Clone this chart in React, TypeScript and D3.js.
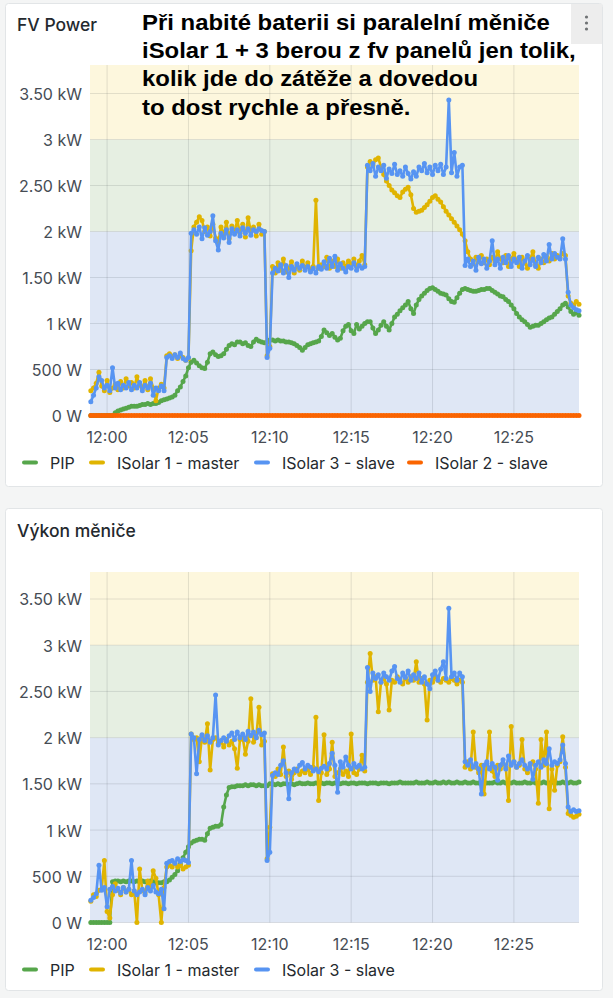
import React, { useEffect } from 'react';
import * as d3 from 'd3';

// time grid: one sample every 10 s from 11:59:00 to 12:29:00
const T = (h: number, m: number, s = 0) => new Date(2024, 0, 1, h, m, s);
const START = T(11, 59, 0);
const STEP_SEC = 10;
const X_DOMAIN = [T(11, 58, 57), T(12, 29, 0)];

const timeTickLabels = ['12:00', '12:05', '12:10', '12:15', '12:20', '12:25'];
const yTickValues = [0, 500, 1000, 1500, 2000, 2500, 3000, 3500];
const yTickLabels = ['0 W', '500 W', '1 kW', '1.50 kW', '2 kW', '2.50 kW', '3 kW', '3.50 kW'];

// threshold bands (W)
const bandEdges = [0, 2000, 3000, Infinity];
const bandColors = ['#dfe7f5', '#e6efe2', '#fdf7dd'];

// ---- FV Power (W) ----
const fvPip = [
  0, 0, 0, 0, 0, 0, 0, 0,
  0, 30, 50, 60, 70, 80, 90, 100, 100, 100,
  110, 120, 120, 130, 120, 130, 130, 140, 160, 170,
  180, 190, 200, 220, 270, 310, 370, 430, 520, 580,
  600, 570, 540, 520, 510, 580, 670, 690, 660, 640,
  650, 670, 720, 760, 780, 770, 800, 800, 780, 790,
  760, 750, 800, 830, 810, 800, 790, 800, 820, 820,
  810, 820, 810, 810, 800, 800, 790, 780, 760, 740,
  710, 740, 770, 780, 790, 800, 810, 860, 930, 900,
  870, 890, 850, 820, 840, 920, 970, 990, 920, 890,
  990, 940, 970, 1000, 1020, 1020, 950, 890, 930, 980,
  1020, 970, 930, 1000, 1070, 1100, 1140, 1170, 1200, 1240,
  1160, 1110, 1200, 1260, 1300, 1330, 1360, 1380, 1390, 1370,
  1350, 1330, 1320, 1310, 1270, 1240, 1230, 1280, 1330, 1370,
  1380, 1370, 1360, 1350, 1350, 1360, 1370, 1370, 1380, 1380,
  1360, 1340, 1320, 1300, 1290, 1260, 1240, 1200, 1160, 1110,
  1070, 1040, 1020, 990, 960, 970, 980, 980, 1000, 1020,
  1040, 1060, 1070, 1100, 1130, 1160, 1200, 1220, 1180, 1130,
  1100, 1120, 1090,
];

const fvIsolar1 = [
  270, 300, 350, 470, 320, 270, 380, 250, 300, 340,
  280, 370, 300, 400, 320, 360, 300, 420, 330, 300,
  380, 280, 400, 300, 160, 300, 340, 300, 650, 670,
  640, 660, 620, 650, 630, 600, 620, 1790, 2050, 2100,
  2160, 2120, 2000, 2050, 1950, 2080, 1930, 1880, 2050, 1960,
  2100, 1920, 2060, 2000, 2120, 1980, 2080, 1940, 2150, 2000,
  2050, 1950, 2080, 1970, 2000, 650, 750, 1620, 1550, 1660,
  1580, 1700, 1560, 1600, 1670, 1550, 1630, 1580, 1680, 1600,
  1660, 1580, 1620, 2340, 1600, 1640, 1620, 1720, 1600, 1680,
  1620, 1700, 1600, 1660, 1620, 1680, 1640, 1700, 1620, 1680,
  1740, 1640, 2700, 2760, 2720, 2780, 2800, 2700, 2620, 2550,
  2500, 2450, 2420, 2390, 2370, 2430, 2460, 2480, 2400, 2250,
  2210, 2220, 2230, 2260, 2290, 2330, 2370, 2390, 2350, 2320,
  2270, 2220, 2180, 2140, 2100, 2060, 2020, 1970, 1900, 1780,
  1700, 1650, 1720, 1670, 1740, 1660, 1700, 1640, 1720, 1670,
  1780, 1700, 1660, 1740, 1620, 1700, 1760, 1680, 1620, 1720,
  1660, 1600, 1700, 1780, 1640, 1600, 1700, 1660, 1730, 1680,
  1760, 1700, 1740, 1720, 1760, 1740, 1300, 1220, 1200, 1240,
  1210,
];

const fvIsolar3 = [
  150, 220, 300, 420, 380, 300, 330, 270, 520, 300,
  350, 280, 330, 300, 360, 280, 330, 300, 360, 270,
  330, 300, 350, 220, 300, 270, 320, 270, 630, 650,
  620, 660, 630, 680, 620, 600, 630, 1980, 2020, 1970,
  2050, 1920, 2040, 1960, 2000, 2170, 1900, 1800, 1980, 1930,
  2020, 1880, 2030, 1970, 2020, 1950, 2040, 1980, 2030, 1960,
  2020, 2000, 2030, 2010, 2000, 630, 730, 1550, 1600, 1570,
  1640, 1550, 1630, 1500, 1620, 1580, 1650, 1600, 1630, 1580,
  1620, 1560, 1600, 1550, 1620, 1590, 1670, 1600, 1710, 1620,
  1730, 1580, 1650, 1600, 1560, 1620, 1600, 1660, 1580, 1630,
  1600, 1620, 2720, 2660, 2740, 2600, 2700, 2660, 2720, 2580,
  2680, 2630, 2730, 2620, 2660, 2600, 2700, 2630, 2570, 2650,
  2600, 2700, 2660, 2740, 2640, 2700, 2620, 2720, 2660, 2730,
  2620, 2700, 3430, 2640, 2860, 2600, 2700, 2720, 1630, 1700,
  1620, 1680, 1580, 1720, 1650, 1700, 1600, 1680, 1900, 1640,
  1700, 1600, 1720, 1660, 1740, 1620, 1700, 1660, 1720, 1600,
  1680, 1740, 1640, 1700, 1620, 1720, 1660, 1750, 1680, 1860,
  1700, 1760, 1720, 1700, 1920, 1700, 1340, 1200, 1170, 1150,
  1140,
];

const fvIsolar2 = [
  0, 0, 0, 0, 0, 0, 0, 0, 0, 0, 0, 0, 0, 0, 0, 0, 0, 0, 0, 0,
  0, 0, 0, 0, 0, 0, 0, 0, 0, 0, 0, 0, 0, 0, 0, 0, 0, 0, 0, 0,
  0, 0, 0, 0, 0, 0, 0, 0, 0, 0, 0, 0, 0, 0, 0, 0, 0, 0, 0, 0,
  0, 0, 0, 0, 0, 0, 0, 0, 0, 0, 0, 0, 0, 0, 0, 0, 0, 0, 0, 0,
  0, 0, 0, 0, 0, 0, 0, 0, 0, 0, 0, 0, 0, 0, 0, 0, 0, 0, 0, 0,
  0, 0, 0, 0, 0, 0, 0, 0, 0, 0, 0, 0, 0, 0, 0, 0, 0, 0, 0, 0,
  0, 0, 0, 0, 0, 0, 0, 0, 0, 0, 0, 0, 0, 0, 0, 0, 0, 0, 0, 0,
  0, 0, 0, 0, 0, 0, 0, 0, 0, 0, 0, 0, 0, 0, 0, 0, 0, 0, 0, 0,
  0, 0, 0, 0, 0, 0, 0, 0, 0, 0, 0, 0, 0, 0, 0, 0, 0, 0, 0, 0,
  0,
];

// ---- Výkon měniče (W) ----
const invPip = [
  0, 0, 0, 0, 0, 0, 0, 0,
  440, 450, 450, 440, 450, 440, 450, 450, 440, 450,
  440, 450, 440, 440, 450, 440, 430, 430, 430, 440,
  440, 460, 490, 520, 560, 630, 700, 760, 820, 860,
  880, 890, 900, 900, 890, 960, 1020, 1030, 1040, 1040,
  1060, 1250, 1380, 1460, 1470, 1470, 1480, 1480, 1480, 1490,
  1480, 1490, 1490, 1480, 1490, 1480, 1480, 1480, 1500, 1500,
  1490, 1500, 1490, 1500, 1500, 1490, 1500, 1490, 1500, 1510,
  1500, 1500, 1510, 1500, 1500, 1510, 1500, 1510, 1500, 1510,
  1510, 1500, 1510, 1510, 1500, 1510, 1510, 1500, 1510, 1510,
  1500, 1510, 1510, 1510, 1500, 1510, 1510, 1510, 1500, 1510,
  1510, 1510, 1500, 1510, 1510, 1510, 1520, 1510, 1510, 1510,
  1510, 1510, 1520, 1510, 1510, 1510, 1520, 1510, 1510, 1520,
  1510, 1510, 1520, 1510, 1520, 1510, 1510, 1520, 1510, 1510,
  1520, 1510, 1510, 1520, 1510, 1510, 1510, 1520, 1510, 1510,
  1510, 1520, 1510, 1510, 1520, 1510, 1510, 1510, 1520, 1510,
  1510, 1510, 1520, 1510, 1510, 1520, 1510, 1510, 1510, 1520,
  1510, 1510, 1520, 1510, 1510, 1510, 1520, 1510, 1510, 1520,
  1510, 1510, 1520,
];

const invIsolar1 = [
  230, 300, 280, 350, 360, 670, 120, 50, 300, 420,
  350, 300, 380, 330, 360, 300, 340, 0, 580, 350,
  320, 450, 380, 560, 480, 300, 0, 380, 600, 620,
  600, 640, 600, 620, 580, 600, 620, 2040, 1980, 2000,
  1740, 2020, 1950, 2150, 1650, 1980, 2000, 1940, 1960, 1900,
  1980, 1920, 1960, 1880, 1670, 1980, 2000, 1820, 1960, 2420,
  1950, 2000, 2330, 1920, 1960, 690, 1030, 1610, 1580, 1660,
  1600, 1900, 1580, 1640, 1550, 1620, 1660, 1600, 1640, 1620,
  1660, 1600, 1680, 2220, 1320, 1620, 2030, 1600, 1660, 1950,
  1580, 1620, 1660, 1600, 1640, 1580, 2040, 1620, 1600, 1660,
  1810, 1640, 2600, 2910, 2620, 2660, 2280, 2600, 2640, 2580,
  2300, 2620, 2600, 2660, 2620, 2580, 2640, 2600, 2660, 2620,
  2820, 2600, 2640, 2580, 2190, 2620, 2600, 2660, 2620, 2600,
  2640, 2620, 2600, 2640, 2620, 2580, 2620, 2600, 1680, 1740,
  1660, 2060, 1680, 1620, 1700, 1390, 1720, 2060, 1640, 1580,
  1700, 1660, 1720, 1680, 1320, 2120, 1740, 1680, 1700, 1980,
  1660, 1620, 1700, 1740, 1660, 1290, 1980, 1700, 2060, 1230,
  1660, 1430, 1700, 1740, 2010, 1680, 1180, 1160, 1140, 1150,
  1170,
];

const invIsolar3 = [
  240, 270, 310, 620, 350, 380, 170, 360, 390, 340,
  370, 320, 380, 330, 360, 670, 340, 300, 330, 360,
  300, 380, 340, 400, 330, 310, 360, 150, 640, 660,
  670, 640, 690, 660, 680, 670, 650, 2040, 2000, 1610,
  1980, 2030, 1970, 2020, 1950, 2000, 2460, 1920, 1970, 2000,
  1960, 2020, 2050, 1980, 2060, 2000, 2040, 1980, 2070, 2020,
  2060, 2000, 2080, 2030, 2050, 670, 760, 1590, 1620, 1600,
  1700, 1750, 1620, 1340, 1620, 1660, 1640, 1700, 1730, 1660,
  1700, 1680, 1640, 1660, 1630, 1670, 1690, 1660, 1720, 1830,
  1700, 1410, 1740, 1680, 1790, 1700, 1660, 1720, 1680, 1700,
  1660, 1680, 2760, 2500, 2700, 2640, 2680, 2600, 2700, 2660,
  2620, 2720, 2770, 2640, 2600, 2700, 2650, 2720, 2620, 2680,
  2640, 2700, 2600, 2660, 2580, 2530, 2680, 2720, 2620, 2740,
  2820, 2640, 3400, 2660, 2700, 2620, 2700, 2660, 1740, 1700,
  1760, 1680, 1720, 1660, 1390, 1700, 1740, 1660, 1720, 1680,
  1540, 1700, 1760, 1660, 1800, 1700, 1740, 1680, 1720, 1760,
  1700, 1660, 1720, 1550, 1700, 1740, 1680, 1760, 1720, 1880,
  1700, 1740, 1720, 1760, 1920, 1720, 1250, 1200, 1220, 1200,
  1210,
];

const COLORS = {
  pip: '#56a64b',
  isolar1: '#e0b400',
  isolar3: '#5794f2',
  isolar2: '#fa6400',
};

const fvSeries = [
  { name: 'PIP', color: COLORS.pip, values: fvPip },
  { name: 'ISolar 1 - master', color: COLORS.isolar1, values: fvIsolar1 },
  { name: 'ISolar 3 - slave', color: COLORS.isolar3, values: fvIsolar3 },
  { name: 'ISolar 2 - slave', color: COLORS.isolar2, values: fvIsolar2 },
];

const invSeries = [
  { name: 'PIP', color: COLORS.pip, values: invPip },
  { name: 'ISolar 1 - master', color: COLORS.isolar1, values: invIsolar1 },
  { name: 'ISolar 3 - slave', color: COLORS.isolar3, values: invIsolar3 },
];

const note = [
  'Při nabité baterii si paralelní měniče',
  'iSolar 1 + 3 berou z fv panelů jen tolik,',
  'kolik jde do zátěže a dovedou',
  'to dost rychle a přesně.',
];

const FONT = 'Inter, "Noto Sans", sans-serif';
const LEGEND_X = [22, 89, 254, 407];
const PLOT_LEFT = 90;
const PLOT_RIGHT = 579;

const timeOf = (i: number) => new Date(START.getTime() + i * STEP_SEC * 1000);
const tickDate = (s: string) => {
  const [h, m] = s.split(':').map(Number);
  return T(h, m);
};

type Series = { name: string; color: string; values: number[] };

const Panel: React.FC<{
  boxTop: number;
  boxBottom: number;
  title: string;
  titleY: number;
  plotTop: number;
  plotBottom: number;
  yMax: number;
  series: Series[];
}> = ({ boxTop, boxBottom, title, titleY, plotTop, plotBottom, yMax, series }) => {
  const x = d3.scaleTime().domain(X_DOMAIN).range([PLOT_LEFT, PLOT_RIGHT]);
  const y = d3.scaleLinear().domain([0, yMax]).range([plotBottom, plotTop]);

  const line = d3
    .line<number>()
    .x((_, i) => x(timeOf(i)))
    .y((d) => y(d));

  const legendY = plotBottom + 47;

  return (
    <g>
      <rect
        x={5.5}
        y={boxTop}
        width={597}
        height={boxBottom - boxTop}
        rx={3}
        fill="#ffffff"
        stroke="#e2e5e7"
      />
      <text x={17} y={titleY} fontFamily={FONT} fontSize={17.5} fontWeight={500} fill="#24292e">
        {title}
      </text>

      {/* threshold bands */}
      {bandColors.map((c, k) => {
        const y0 = y(bandEdges[k]);
        const y1 = y(Math.min(bandEdges[k + 1], yMax));
        return (
          <rect key={k} x={PLOT_LEFT} y={y1} width={PLOT_RIGHT - PLOT_LEFT} height={y0 - y1} fill={c} />
        );
      })}

      {/* grid */}
      {yTickValues.map((v) => (
        <line
          key={'h' + v}
          x1={PLOT_LEFT}
          x2={PLOT_RIGHT}
          y1={y(v)}
          y2={y(v)}
          stroke="rgba(36,41,46,0.12)"
        />
      ))}
      {timeTickLabels.map((t) => (
        <line
          key={'v' + t}
          x1={x(tickDate(t))}
          x2={x(tickDate(t))}
          y1={plotTop}
          y2={plotBottom}
          stroke="rgba(36,41,46,0.12)"
        />
      ))}

      {/* axis labels */}
      {yTickValues.map((v, k) => (
        <text
          key={'yl' + v}
          x={PLOT_LEFT - 8}
          y={y(v) + 0.5}
          textAnchor="end"
          dominantBaseline="central"
          fontFamily={FONT}
          fontSize={16}
          fill="#464c54"
        >
          {yTickLabels[k]}
        </text>
      ))}
      {timeTickLabels.map((t) => (
        <text
          key={'xl' + t}
          x={x(tickDate(t))}
          y={plotBottom + 21}
          textAnchor="middle"
          dominantBaseline="central"
          fontFamily={FONT}
          fontSize={16}
          fill="#464c54"
        >
          {t}
        </text>
      ))}

      {/* series */}
      {series.map((s) => (
        <g key={s.name}>
          <path d={line(s.values) || ''} fill="none" stroke={s.color} strokeWidth={2.6} strokeLinejoin="round" />
          {s.values.map((v, i) => (
            <circle key={i} cx={x(timeOf(i))} cy={y(v)} r={2.5} fill={s.color} />
          ))}
        </g>
      ))}

      {/* legend */}
      {series.map((s, k) => (
        <g key={'lg' + s.name}>
          <rect x={LEGEND_X[k]} y={legendY - 2} width={16} height={4} rx={2} fill={s.color} />
          <text
            x={LEGEND_X[k] + 28}
            y={legendY}
            dominantBaseline="central"
            fontFamily={FONT}
            fontSize={16}
            fill="#24292e"
          >
            {s.name}
          </text>
        </g>
      ))}
    </g>
  );
};

export default function App() {
  useEffect(() => {
    document.body.style.margin = '0';
    document.body.style.background = '#f4f5f5';
  }, []);

  return (
    <svg width={613} height={998} style={{ display: 'block', background: '#f4f5f5' }}>
      <Panel
        boxTop={3.5}
        boxBottom={486.5}
        title="FV Power"
        titleY={31}
        plotTop={65}
        plotBottom={415.5}
        yMax={3810}
        series={fvSeries}
      />
      <Panel
        boxTop={508.5}
        boxBottom={990.5}
        title="Výkon měniče"
        titleY={537}
        plotTop={572}
        plotBottom={922.5}
        yMax={3792}
        series={invSeries}
      />

      {/* panel menu button */}
      <rect x={571} y={4} width={31} height={40} fill="#ededed" />
      {[17, 23, 29].map((cy) => (
        <circle key={cy} cx={586.5} cy={cy} r={1.6} fill="#6f7274" />
      ))}

      {/* annotation (glyphs in the screenshot are a little wider than tall) */}
      <g transform="translate(142,0) scale(1.087,1)">
        {note.map((t, k) => (
          <text
            key={k}
            x={0}
            y={30 + k * 28.2}
            fontFamily='"Liberation Sans", Arial, sans-serif'
            fontWeight="bold"
            fontSize={22}
            fill="#000000"
          >
            {t}
          </text>
        ))}
      </g>
    </svg>
  );
}
